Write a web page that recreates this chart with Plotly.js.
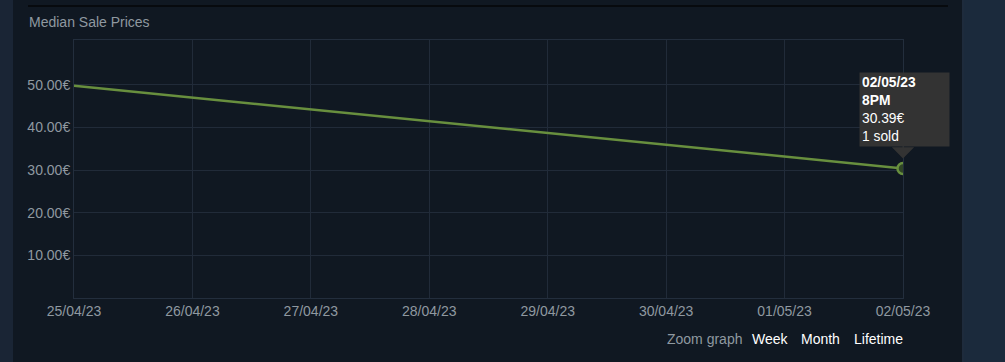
<!DOCTYPE html>
<html>
<head>
<meta charset="utf-8">
<script src="https://cdn.plot.ly/plotly-3.0.1.min.js"></script>
<style>
  html, body { margin: 0; padding: 0; width: 1005px; height: 362px; overflow: hidden; }
  body {
    background: linear-gradient(to right,
      #1a2535 0px, #1a2535 13px,
      #101822 13px, #101822 962px,
      #1e2b3c 962px, #1e2b3c 964px,
      #1b2a3c 964px, #1b2a3c 1005px);
  }
  #chart { width: 1005px; height: 362px; }
</style>
</head>
<body>
<div id="chart"></div>
<script>
// Median sale price history (EUR)
const saleTimes = ["2023-04-25 20:00", "2023-05-02 20:00"];
const salePrices = [49.77, 30.39];
const soldCounts = [1, 1];

// Axis ticks
const dayTicks = ["2023-04-25 20:00", "2023-04-26 20:00", "2023-04-27 20:00", "2023-04-28 20:00",
                  "2023-04-29 20:00", "2023-04-30 20:00", "2023-05-01 20:00", "2023-05-02 20:00"];
const dayLabels = ["25/04/23", "26/04/23", "27/04/23", "28/04/23", "29/04/23", "30/04/23", "01/05/23", "02/05/23"];
const priceTicks = [10, 20, 30, 40, 50];
const priceLabels = ["10.00€", "20.00€", "30.00€", "40.00€", "50.00€"];

// Hover readout for the latest sale
const hoverDate = "02/05/23";
const hoverHour = "8PM";

const last = saleTimes.length - 1;
const font = "Arial, 'Liberation Sans', sans-serif";
const axisText = "#8f98a0";
const gridCol = "#212b39";
const tipBg = "#333333";

const priceLine = {
  x: saleTimes, y: salePrices, type: "scatter", mode: "lines",
  line: { color: "#688f3e", width: 2.5 }, hoverinfo: "skip"
};
const focusPoint = {
  x: [saleTimes[last]], y: [salePrices[last]], type: "scatter", mode: "markers",
  marker: { size: 11, color: "#2f4526", line: { color: "#688f3e", width: 2.5 } },
  hoverinfo: "skip", cliponaxis: true
};

const layout = {
  width: 1005, height: 362,
  margin: { l: 74, r: 102, t: 40, b: 64 },
  paper_bgcolor: "rgba(0,0,0,0)", plot_bgcolor: "rgba(0,0,0,0)",
  showlegend: false,
  font: { family: font, color: axisText, size: 14 },
  title: {
    text: "Median Sale Prices", x: 29 / 1005, xanchor: "left", xref: "container",
    y: 1 - 22 / 362, yanchor: "middle", yref: "container",
    font: { family: font, size: 14, color: axisText }
  },
  xaxis: {
    type: "date", range: [dayTicks[0], dayTicks[dayTicks.length - 1]],
    tickmode: "array", tickvals: dayTicks, ticktext: dayLabels,
    showgrid: true, gridcolor: gridCol, gridwidth: 1,
    showline: true, linecolor: "#232e3d", linewidth: 1, mirror: true,
    zeroline: false, ticks: "", ticklen: 0,
    tickfont: { family: font, size: 14, color: axisText }
  },
  yaxis: {
    range: [0, 60.5], tickmode: "array", tickvals: priceTicks, ticktext: priceLabels,
    showgrid: true, gridcolor: gridCol, gridwidth: 1,
    showline: true, linecolor: "#232e3d", linewidth: 1, mirror: true,
    zeroline: false, ticks: "", ticklen: 0,
    tickfont: { family: font, size: 14, color: axisText }
  },
  shapes: [
    { type: "line", xref: "paper", yref: "paper",
      x0: -46 / 829, x1: 874 / 829, y0: 292 / 258, y1: 292 / 258,
      line: { color: "#070a0e", width: 2 } }
  ],
  annotations: [
    { // tooltip pointer: a wide triangular arrowhead stopping just above the point
      x: saleTimes[last], y: salePrices[last], xref: "x", yref: "y",
      text: " ", font: { size: 1, color: tipBg },
      showarrow: true, axref: "pixel", ayref: "pixel", ax: 0, ay: -30,
      arrowhead: 1, arrowsize: 3.7, arrowwidth: 1, arrowcolor: tipBg, standoff: 10
    },
    { // tooltip box
      x: saleTimes[last], y: salePrices[last], xref: "x", yref: "y",
      text: "<b>" + hoverDate + "</b><br><b>" + hoverHour + "</b><br>" +
            salePrices[last].toFixed(2) + "€<br>" + soldCounts[last] + " sold",
      showarrow: false, xanchor: "left", yanchor: "bottom", align: "left",
      xshift: -44, yshift: 21, width: 85, borderpad: 2,
      bgcolor: tipBg, font: { family: font, size: 13.8, color: "#ffffff" }
    },
    { text: "Zoom graph", xref: "paper", yref: "paper", x: 591 / 829, y: -41 / 258,
      xanchor: "left", yanchor: "middle", showarrow: false,
      font: { family: font, size: 14, color: axisText } },
    { text: "Week", xref: "paper", yref: "paper", x: 676 / 829, y: -41 / 258,
      xanchor: "left", yanchor: "middle", showarrow: false,
      font: { family: font, size: 14, color: "#ffffff" } },
    { text: "Month", xref: "paper", yref: "paper", x: 725 / 829, y: -41 / 258,
      xanchor: "left", yanchor: "middle", showarrow: false,
      font: { family: font, size: 14, color: "#ffffff" } },
    { text: "Lifetime", xref: "paper", yref: "paper", x: 778 / 829, y: -41 / 258,
      xanchor: "left", yanchor: "middle", showarrow: false,
      font: { family: font, size: 14, color: "#ffffff" } }
  ]
};

Plotly.newPlot("chart", [priceLine, focusPoint], layout, { staticPlot: true, displayModeBar: false });
</script>
</body>
</html>
